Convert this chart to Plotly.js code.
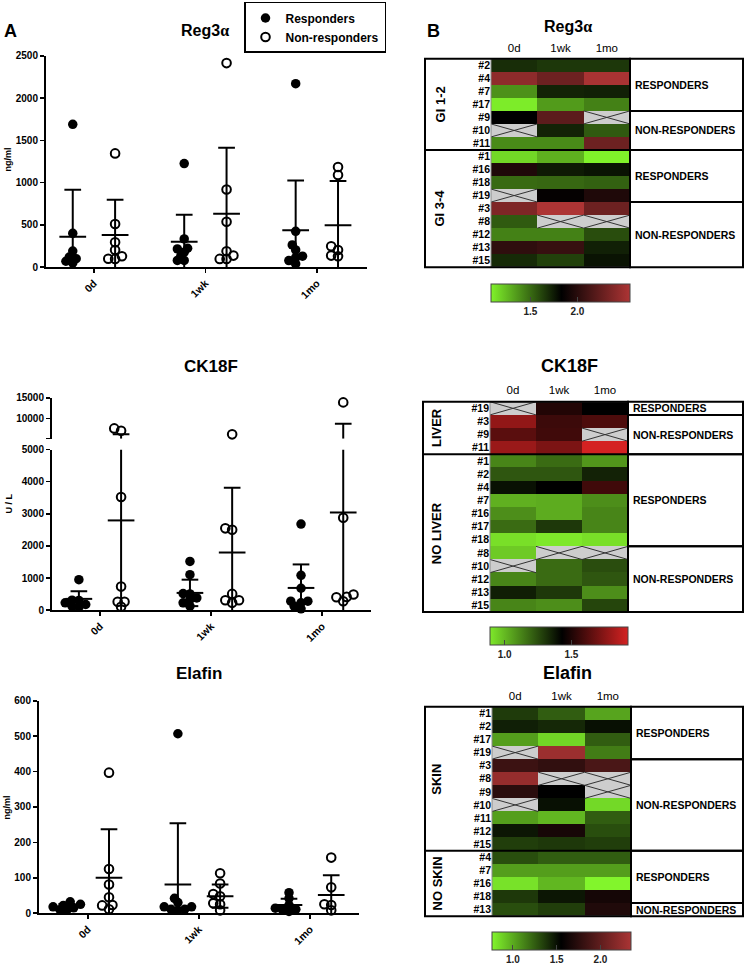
<!DOCTYPE html>
<html>
<head>
<meta charset="utf-8">
<script src="https://cdn.plot.ly/plotly-3.0.1.min.js"></script>
<style>
html,body{margin:0;padding:0;background:#ffffff;}
#chart{width:747px;height:971px;}
</style>
</head>
<body>
<div id="chart"></div>
<script>
// ======================= DATA =======================
const timepoints = ['0d', '1wk', '1mo'];
const groupNames = ['Responders', 'Non-responders'];

// ---- Panel A : Reg3α (ng/ml) ----
const reg3aResp0d  = [1690, 400, 190, 120, 100, 70, 50];
const reg3aResp1wk = [1225, 334, 224, 216, 177, 130, 80, 80];
const reg3aResp1mo = [2170, 424, 263, 204, 130, 114, 78, 39];
const reg3aNon0d   = [1346, 510, 294, 204, 130, 100, 98];
const reg3aNon1wk  = [2414, 918, 538, 188, 137, 98, 98];
const reg3aNon1mo  = [1185, 1091, 247, 204, 137, 130];
const reg3aRespMean = [361, 302, 436];
const reg3aRespSD   = [554, 318, 588];
const reg3aNonMean  = [381, 632, 495];
const reg3aNonSD    = [416, 781, 525];
const reg3aTicks    = [0, 500, 1000, 1500, 2000, 2500];

// ---- Panel A : CK18F (U/L) ----
const ck18fResp0d  = [949, 309, 300, 227, 175, 124, 90];
const ck18fResp1wk = [1515, 1103, 515, 505, 381, 330, 227, 124];
const ck18fResp1mo = [2681, 1083, 681, 278, 278, 227, 124, 40];
const ck18fNon0d   = [7620, 7060, 3526, 732, 258, 258, 103];
const ck18fNon1wk  = [6190, 2547, 2505, 505, 309, 309, 227];
const ck18fNon1mo  = [13889, 2877, 485, 412, 400, 278];
const ck18fRespMean = [350, 536, 691];
const ck18fRespSD   = [238, 412, 732];
const ck18fNonMean  = [2794, 1794, 3041];
const ck18fNonSD    = [3396, 2021, 5689];
const ck18fLowerTicks = [0, 1000, 2000, 3000, 4000, 5000];
const ck18fUpperTicks = [10000, 15000];

// ---- Panel A : Elafin (ng/ml) ----
const elafinResp0d  = [32, 25, 22, 18, 15, 10, 8];
const elafinResp1wk = [507, 42, 30, 18, 18, 11, 11, 8];
const elafinResp1mo = [58, 42, 23, 14, 11, 11, 5];
const elafinNon0d   = [397, 125, 81, 45, 23, 22, 11];
const elafinNon1wk  = [113, 84, 54, 48, 28, 25, 8];
const elafinNon1mo  = [157, 73, 25, 23, 8];
const elafinRespMean = [18, 81, 23];
const elafinRespSD   = [8, 173, 18];
const elafinNonMean  = [100, 48, 51];
const elafinNonSD    = [137, 33, 56];
const elafinTicks    = [0, 100, 200, 300, 400, 500, 600];

// ---- Panel B : Reg3α heat map ----
const hmReg3aRows   = ['#2','#4','#7','#17','#9','#10','#11','#1','#16','#18','#19','#3','#8','#12','#13','#15'];
const hmReg3aGroups = ['GI 1-2','GI 1-2','GI 1-2','GI 1-2','GI 1-2','GI 1-2','GI 1-2','GI 3-4','GI 3-4','GI 3-4','GI 3-4','GI 3-4','GI 3-4','GI 3-4','GI 3-4','GI 3-4'];
const hmReg3aResp   = ['RESPONDERS','RESPONDERS','RESPONDERS','RESPONDERS','NON-RESPONDERS','NON-RESPONDERS','NON-RESPONDERS','RESPONDERS','RESPONDERS','RESPONDERS','RESPONDERS','NON-RESPONDERS','NON-RESPONDERS','NON-RESPONDERS','NON-RESPONDERS','NON-RESPONDERS'];
const hmReg3a0d  = [1.69, 2.43, 1.38, 1.10, 1.83, null, 1.40, 1.16, 1.96, 1.50, null, 2.36, 1.55, 1.43, 2.03, 1.70];
const hmReg3a1wk = [1.66, 2.29, 1.72, 1.35, 2.22, 1.72, 1.40, 1.28, 1.75, 1.51, 1.85, 2.56, null, 1.43, 2.06, 1.63];
const hmReg3a1mo = [1.66, 2.54, 1.73, 1.43, null, 1.55, 2.29, 1.08, 1.77, 1.53, 1.96, 2.29, null, 1.59, 1.73, 1.77];
const hmReg3aCbTicks = [1.5, 2.0];

// ---- Panel B : CK18F heat map ----
const hmCk18fRows   = ['#19','#3','#9','#11','#1','#2','#4','#7','#16','#17','#18','#8','#10','#12','#13','#15'];
const hmCk18fGroups = ['LIVER','LIVER','LIVER','LIVER','NO LIVER','NO LIVER','NO LIVER','NO LIVER','NO LIVER','NO LIVER','NO LIVER','NO LIVER','NO LIVER','NO LIVER','NO LIVER','NO LIVER'];
const hmCk18fResp   = ['RESPONDERS','NON-RESPONDERS','NON-RESPONDERS','NON-RESPONDERS','RESPONDERS','RESPONDERS','RESPONDERS','RESPONDERS','RESPONDERS','RESPONDERS','RESPONDERS','NON-RESPONDERS','NON-RESPONDERS','NON-RESPONDERS','NON-RESPONDERS','NON-RESPONDERS'];
const hmCk18f0d  = [null, 1.77, 1.64, 1.79, 1.12, 1.23, 1.39, 1.02, 1.10, 1.18, 0.91, 0.96, null, 1.12, 1.36, 1.12];
const hmCk18f1wk = [1.51, 1.57, 1.58, 1.72, 1.18, 1.23, 1.43, 1.03, 1.03, 1.30, 0.89, null, 1.18, 1.18, 1.30, 1.10];
const hmCk18f1mo = [1.43, 1.61, null, 1.925, 1.08, 1.35, 1.58, 1.10, 1.12, 1.12, 0.91, null, 1.25, 1.23, 1.10, 1.27];
const hmCk18fCbTicks = [1.0, 1.5];

// ---- Panel B : Elafin heat map ----
const hmElafinRows   = ['#1','#2','#17','#19','#3','#8','#9','#10','#11','#12','#15','#4','#7','#16','#18','#13'];
const hmElafinGroups = ['SKIN','SKIN','SKIN','SKIN','SKIN','SKIN','SKIN','SKIN','SKIN','SKIN','SKIN','NO SKIN','NO SKIN','NO SKIN','NO SKIN','NO SKIN'];
const hmElafinResp   = ['RESPONDERS','RESPONDERS','RESPONDERS','RESPONDERS','NON-RESPONDERS','NON-RESPONDERS','NON-RESPONDERS','NON-RESPONDERS','NON-RESPONDERS','NON-RESPONDERS','NON-RESPONDERS','RESPONDERS','RESPONDERS','RESPONDERS','RESPONDERS','NON-RESPONDERS'];
const hmElafin0d  = [1.36, 1.45, 1.04, null, 1.83, 2.25, 1.75, null, 1.04, 1.48, 1.35, 1.30, 1.04, 0.82, 1.37, 1.30];
const hmElafin1wk = [1.25, 1.42, 0.86, 2.28, 1.78, null, 1.55, 1.50, 0.96, 1.66, 1.37, 1.25, 1.04, 0.96, 1.48, 1.35];
const hmElafin1mo = [1.02, 1.50, 1.25, 1.15, 1.90, null, null, 0.85, 1.25, 1.30, 1.35, 1.25, 1.04, 0.76, 1.65, 1.70];
const hmElafinCbTicks = [1.0, 1.5, 2.0];

// ======================= LAYOUT HELPERS =======================
const W = 747, H = 971;
const FONT = 'Arial, "Liberation Sans", Helvetica, sans-serif';
const ALPHA = '<span style="font-family:\'Liberation Serif\',\'DejaVu Serif\',serif">α</span>';
const PX = p => p / W;
const PY = p => 1 - p / H;

const traces = [];
const shapes = [];
const annotations = [];
const layout = {
  width: W, height: H,
  margin: {l: 0, r: 0, t: 0, b: 0},
  paper_bgcolor: '#ffffff', plot_bgcolor: 'rgba(0,0,0,0)',
  font: {family: FONT, color: '#000'},
  showlegend: true,
  legend: {
    x: PX(244), y: PY(2), xanchor: 'left', yanchor: 'top',
    bgcolor: '#ffffff', bordercolor: '#000', borderwidth: 1.5,
    font: {family: FONT, size: 12, weight: 'bold', color: '#000'},
    itemwidth: 30, tracegroupgap: 0, traceorder: 'normal'
  }
};

function ann(text, x, y, size, opts) {
  annotations.push(Object.assign({
    text: text, x: PX(x), y: PY(y), xref: 'paper', yref: 'paper',
    showarrow: false, xanchor: 'center', yanchor: 'middle',
    font: {family: FONT, size: size, weight: 'bold', color: '#000'}
  }, opts || {}));
}

const axisCommon = {
  showline: true, linewidth: 2, linecolor: '#000',
  ticks: 'outside', ticklen: 4, tickwidth: 1.5, tickcolor: '#000',
  showgrid: false, zeroline: false, fixedrange: true,
  tickfont: {family: FONT, size: 10, weight: 'bold', color: '#000'}
};

// ======================= PANEL A : SCATTER DOT PLOTS =======================
const scatterCharts = [
  {
    title: 'Reg3' + ALPHA, titlePos: [205, 31], titleSize: 16,
    yTitle: 'ng/ml', yTitlePos: [8, 160],
    xn: '', xpx: [46, 367], xrange: [0.57, 3.45],
    segs: [{yn: '', px: [268, 56], range: [0, 2500], tickvals: reg3aTicks, ticktext: reg3aTicks.map(String)}],
    values: [[reg3aResp0d, reg3aResp1wk, reg3aResp1mo], [reg3aNon0d, reg3aNon1wk, reg3aNon1mo]],
    means: [reg3aRespMean, reg3aNonMean], sds: [reg3aRespSD, reg3aNonSD], legend: true
  },
  {
    title: 'CK18F', titlePos: [211, 368], titleSize: 17,
    yTitle: 'U / L', yTitlePos: [9, 505],
    xn: '2', xpx: [52, 371], xrange: [0.568, 3.44],
    segs: [
      {yn: '2', px: [612, 451], range: [0, 5000], tickvals: ck18fLowerTicks, ticktext: ck18fLowerTicks.map(String)},
      {yn: '3', px: [440, 399], range: [5160, 15000], tickvals: [5160].concat(ck18fUpperTicks), ticktext: [''].concat(ck18fUpperTicks.map(String))}
    ],
    values: [[ck18fResp0d, ck18fResp1wk, ck18fResp1mo], [ck18fNon0d, ck18fNon1wk, ck18fNon1mo]],
    means: [ck18fRespMean, ck18fNonMean], sds: [ck18fRespSD, ck18fNonSD], legend: false
  },
  {
    title: 'Elafin', titlePos: [199, 676], titleSize: 17,
    yTitle: 'ng/ml', yTitlePos: [7, 810],
    xn: '3', xpx: [39, 359], xrange: [0.56, 3.44],
    segs: [{yn: '4', px: [916, 703], range: [0, 600], tickvals: elafinTicks, ticktext: elafinTicks.map(String)}],
    values: [[elafinResp0d, elafinResp1wk, elafinResp1mo], [elafinNon0d, elafinNon1wk, elafinNon1mo]],
    means: [elafinRespMean, elafinNonMean], sds: [elafinRespSD, elafinNonSD], legend: false
  }
];

const GROUP_OFFSET = 0.19, MEAN_HALF = 0.12, CAP_HALF = 0.075, DIAM = 9.5;

function segFor(ch, v) {
  for (const s of ch.segs) if (v <= s.range[1]) return s;
  return ch.segs[ch.segs.length - 1];
}
function valToPx(s, v) {
  return s.px[0] + (v - s.range[0]) / (s.range[1] - s.range[0]) * (s.px[1] - s.px[0]);
}
// compact beeswarm: spread overlapping points sideways (in pixels), allowing overlap
function swarm(ch, vals, center) {
  const xPerPx = (ch.xrange[1] - ch.xrange[0]) / (ch.xpx[1] - ch.xpx[0]);
  const order = vals.map((v, i) => i).sort((a, b) => vals[a] - vals[b]);
  const placed = [];
  const xs = new Array(vals.length);
  const step = DIAM * 0.36;
  for (const i of order) {
    const py = valToPx(segFor(ch, vals[i]), vals[i]);
    let off = 0;
    for (let k = 0; k < 40; k++) {
      off = k === 0 ? 0 : (k % 2 === 1 ? -1 : 1) * Math.ceil(k / 2) * step;
      if (placed.every(p => Math.hypot(p.x - off, p.y - py) >= DIAM * 0.55)) break;
    }
    placed.push({x: off, y: py});
    xs[i] = center + off * xPerPx;
  }
  return xs;
}

scatterCharts.forEach(ch => {
  const xKey = 'xaxis' + ch.xn;
  const xRef = 'x' + ch.xn;
  const firstY = 'y' + ch.segs[0].yn;
  layout[xKey] = Object.assign({}, axisCommon, {
    domain: [PX(ch.xpx[0]), PX(ch.xpx[1])], range: ch.xrange, anchor: firstY,
    tickmode: 'array', tickvals: [1, 2, 3], ticktext: timepoints, tickangle: -45,
    tickfont: {family: FONT, size: 10.5, weight: 'bold', color: '#000'}
  });
  ch.segs.forEach(s => {
    layout['yaxis' + s.yn] = Object.assign({}, axisCommon, {
      domain: [PY(s.px[0]), PY(s.px[1])], range: s.range, anchor: xRef,
      tickmode: 'array', tickvals: s.tickvals, ticktext: s.ticktext
    });
  });

  // points
  [0, 1].forEach(g => {
    const bySeg = {};
    ch.segs.forEach(s => { bySeg[s.yn] = {x: [], y: []}; });
    ch.values[g].forEach((vals, t) => {
      const center = t + 1 + (g === 0 ? -GROUP_OFFSET : GROUP_OFFSET);
      const xs = swarm(ch, vals, center);
      vals.forEach((v, i) => {
        const s = segFor(ch, v);
        bySeg[s.yn].x.push(xs[i]);
        bySeg[s.yn].y.push(v);
      });
    });
    ch.segs.forEach((s, si) => {
      traces.push({
        type: 'scatter', mode: 'markers', name: groupNames[g],
        x: bySeg[s.yn].x, y: bySeg[s.yn].y,
        xaxis: xRef, yaxis: 'y' + s.yn, cliponaxis: false,
        showlegend: ch.legend && si === 0, hoverinfo: 'skip',
        marker: g === 0
          ? {symbol: 'circle', size: DIAM, color: '#000', line: {width: 0}}
          : {symbol: 'circle-open', size: 8.6, color: '#000', line: {width: 2, color: '#000'}}
      });
    });
  });

  // mean and SD bars
  const lines = {};
  ch.segs.forEach(s => { lines[s.yn] = {x: [], y: []}; });
  const seg = (s, x0, x1, y0, y1) => { lines[s.yn].x.push(x0, x1, null); lines[s.yn].y.push(y0, y1, null); };
  [0, 1].forEach(g => {
    ch.means[g].forEach((m, t) => {
      const c = t + 1 + (g === 0 ? -GROUP_OFFSET : GROUP_OFFSET);
      const sd = ch.sds[g][t];
      const hi = m + sd, lo = Math.max(m - sd, 0);
      seg(segFor(ch, m), c - MEAN_HALF, c + MEAN_HALF, m, m);
      ch.segs.forEach(s => {
        const a = Math.max(lo, s.range[0]), b = Math.min(hi, s.range[1]);
        if (a < b) seg(s, c, c, a, b);
      });
      seg(segFor(ch, hi), c - CAP_HALF, c + CAP_HALF, hi, hi);
      if (m - sd > 0) seg(segFor(ch, lo), c - CAP_HALF, c + CAP_HALF, lo, lo);
    });
  });
  ch.segs.forEach(s => {
    traces.push({
      type: 'scatter', mode: 'lines', x: lines[s.yn].x, y: lines[s.yn].y,
      xaxis: xRef, yaxis: 'y' + s.yn, showlegend: false, hoverinfo: 'skip',
      cliponaxis: false, line: {color: '#000', width: 2}
    });
  });

  ann(ch.title, ch.titlePos[0], ch.titlePos[1], ch.titleSize);
  ann(ch.yTitle, ch.yTitlePos[0], ch.yTitlePos[1], 9, {textangle: -90});
});

ann('A', 10, 31, 18);
ann('B', 433, 31, 18);

// ======================= PANEL B : HEAT MAPS =======================
const heatmaps = [
  {
    title: 'Reg3' + ALPHA, titlePos: [568, 27], titleSize: 16,
    rows: hmReg3aRows, groups: hmReg3aGroups, resp: hmReg3aResp, cols: [hmReg3a0d, hmReg3a1wk, hmReg3a1mo],
    xn: '4', yn: '5', cellX: [491, 630], cellY: [59, 268], boxL: 425, boxR: 743, groupLabelX: 440,
    ca: 'coloraxis', cmin: 1.08, cmax: 2.56, cmid: 1.83, lo: '#80f22a', hi: '#ad3434',
    cbTicks: hmReg3aCbTicks, cbTop: 285
  },
  {
    title: 'CK18F', titlePos: [569, 367], titleSize: 18,
    rows: hmCk18fRows, groups: hmCk18fGroups, resp: hmCk18fResp, cols: [hmCk18f0d, hmCk18f1wk, hmCk18f1mo],
    xn: '5', yn: '6', cellX: [490, 628], cellY: [403, 614], boxL: 423, boxR: 743, groupLabelX: 436,
    ca: 'coloraxis2', cmin: 0.89, cmax: 1.925, cmid: 1.43, lo: '#7ee82a', hi: '#d42222',
    cbTicks: hmCk18fCbTicks, cbTop: 629
  },
  {
    title: 'Elafin', titlePos: [567, 675], titleSize: 18,
    rows: hmElafinRows, groups: hmElafinGroups, resp: hmElafinResp, cols: [hmElafin0d, hmElafin1wk, hmElafin1mo],
    xn: '6', yn: '7', cellX: [492, 631], cellY: [709, 919], boxL: 425, boxR: 743, groupLabelX: 437,
    ca: 'coloraxis3', cmin: 0.76, cmax: 2.35, cmid: 1.55, lo: '#82f52c', hi: '#aa3434',
    cbTicks: hmElafinCbTicks, cbTop: 935
  }
];

function runs(arr) {
  const out = [];
  arr.forEach((v, i) => {
    if (out.length && out[out.length - 1].val === v) out[out.length - 1].end = i;
    else out.push({val: v, start: i, end: i});
  });
  return out;
}

heatmaps.forEach(hm => {
  const n = hm.rows.length;
  const xRef = 'x' + hm.xn, yRef = 'y' + hm.yn;
  const idx = hm.rows.map((r, i) => i);
  layout['xaxis' + hm.xn] = {
    domain: [PX(hm.cellX[0]), PX(hm.cellX[1])], range: [-0.5, 2.5], anchor: yRef, side: 'top',
    tickmode: 'array', tickvals: [0, 1, 2], ticktext: timepoints, ticks: '',
    showline: false, showgrid: false, zeroline: false, fixedrange: true, ticklabelstandoff: 4,
    tickfont: {family: FONT, size: 11.5, color: '#000'}
  };
  layout['yaxis' + hm.yn] = {
    domain: [PY(hm.cellY[1]), PY(hm.cellY[0])], range: [n - 0.5, -0.5], anchor: xRef,
    tickmode: 'array', tickvals: idx, ticktext: hm.rows, ticks: '',
    showline: false, showgrid: false, zeroline: false, fixedrange: true,
    tickfont: {family: FONT, size: 10.5, weight: 'bold', color: '#000'}
  };
  const mid = (hm.cmid - hm.cmin) / (hm.cmax - hm.cmin);
  layout[hm.ca] = {
    cmin: hm.cmin, cmax: hm.cmax,
    colorscale: [[0, hm.lo], [mid, '#000000'], [1, hm.hi]],
    colorbar: {
      orientation: 'h', x: PX((hm.cellX[0] + hm.cellX[1]) / 2), xanchor: 'center',
      y: PY(hm.cbTop), yanchor: 'top', len: hm.cellX[1] - hm.cellX[0], lenmode: 'pixels',
      thickness: 18, thicknessmode: 'pixels', xpad: 0, ypad: 0,
      outlinewidth: 1, outlinecolor: '#444',
      tickmode: 'array', tickvals: hm.cbTicks, ticktext: hm.cbTicks.map(v => v.toFixed(1)),
      ticks: 'inside', ticklen: 5, tickwidth: 1, tickcolor: '#444',
      tickfont: {family: FONT, size: 10, weight: 'bold', color: '#222'}
    }
  };

  const z = idx.map(i => hm.cols.map(c => c[i]));
  const zMissing = idx.map(i => hm.cols.map(c => (c[i] === null ? 1 : null)));
  traces.push({
    type: 'heatmap', x: [0, 1, 2], y: idx, z: z, coloraxis: hm.ca,
    xaxis: xRef, yaxis: yRef, hoverinfo: 'skip', showlegend: false
  });
  traces.push({
    type: 'heatmap', x: [0, 1, 2], y: idx, z: zMissing, zmin: 0, zmax: 1,
    colorscale: [[0, '#cdcdcd'], [1, '#cdcdcd']], showscale: false,
    xaxis: xRef, yaxis: yRef, hoverinfo: 'skip', showlegend: false
  });
  const cx = [], cy = [];
  idx.forEach(i => hm.cols.forEach((c, j) => {
    if (c[i] === null) {
      cx.push(j - 0.5, j + 0.5, null, j - 0.5, j + 0.5, null);
      cy.push(i - 0.5, i + 0.5, null, i + 0.5, i - 0.5, null);
    }
  }));
  traces.push({
    type: 'scatter', mode: 'lines', x: cx, y: cy, xaxis: xRef, yaxis: yRef,
    line: {color: '#333', width: 1}, hoverinfo: 'skip', showlegend: false
  });

  const rowH = (hm.cellY[1] - hm.cellY[0]) / n;
  const rowTop = i => hm.cellY[0] + i * rowH;
  const rect = (x0, x1, y0, y1, w, col) => shapes.push({
    type: 'rect', xref: 'paper', yref: 'paper', x0: PX(x0), x1: PX(x1), y0: PY(y0), y1: PY(y1),
    line: {color: col || '#000', width: w}, fillcolor: 'rgba(0,0,0,0)', layer: 'above'
  });
  rect(hm.cellX[0], hm.cellX[1], hm.cellY[0], hm.cellY[1], 1, '#8a8a8a');
  rect(hm.boxL, hm.cellX[1], hm.cellY[0], hm.cellY[1], 2);
  runs(hm.groups).forEach((r, k) => {
    if (k > 0) shapes.push({
      type: 'line', xref: 'paper', yref: 'paper', x0: PX(hm.boxL), x1: PX(hm.cellX[1]),
      y0: PY(rowTop(r.start)), y1: PY(rowTop(r.start)), line: {color: '#000', width: 2}, layer: 'above'
    });
    ann(r.val, hm.groupLabelX, (rowTop(r.start) + rowTop(r.end + 1)) / 2, 13, {textangle: -90});
  });
  runs(hm.resp).forEach(r => {
    rect(hm.cellX[1], hm.boxR, rowTop(r.start), rowTop(r.end + 1), 2);
    ann(r.val, hm.cellX[1] + 3, (rowTop(r.start) + rowTop(r.end + 1)) / 2, 10.5, {xanchor: 'left'});
  });
  ann(hm.title, hm.titlePos[0], hm.titlePos[1], hm.titleSize);
});

layout.shapes = shapes;
layout.annotations = annotations;

Plotly.newPlot('chart', traces, layout, {staticPlot: true, displayModeBar: false});
</script>
</body>
</html>
